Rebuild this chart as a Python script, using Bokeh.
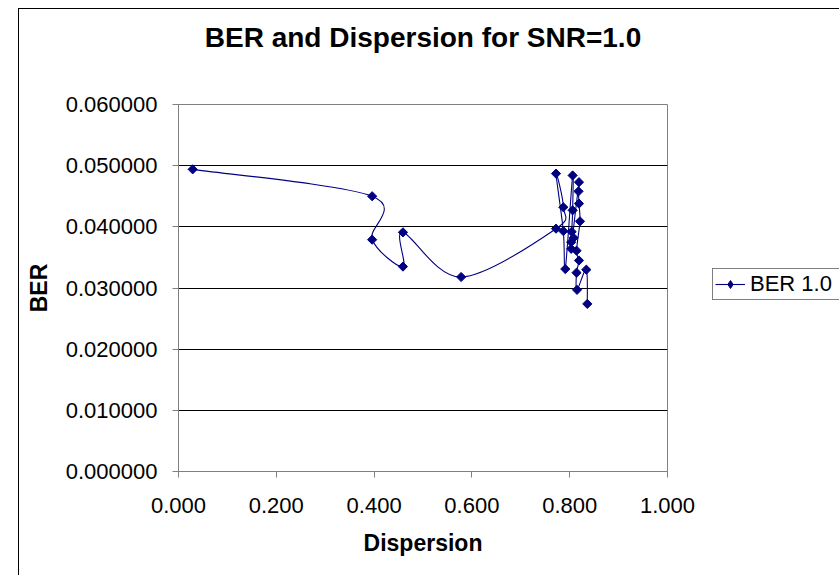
from bokeh.plotting import figure
from bokeh.layouts import row
from bokeh.models import (NumeralTickFormatter, FixedTicker, Range1d, Legend, LegendItem,
                          ColumnDataSource, Title)
from bokeh.embed import file_html
from bokeh.resources import INLINE
import math

# Data (series "BER 1.0"), in drawing order
dispersion = [0.029, 0.396, 0.396, 0.459, 0.459, 0.578, 0.772, 0.787, 0.772,
              0.787, 0.791, 0.806, 0.806, 0.804, 0.803, 0.808, 0.803, 0.819,
              0.818, 0.819, 0.821, 0.814, 0.819, 0.814, 0.815, 0.834, 0.836]
ber = [0.0494, 0.0450, 0.0379, 0.0335, 0.0391, 0.0318, 0.0397, 0.0432, 0.0487,
       0.0393, 0.0331, 0.0484, 0.0427, 0.0392, 0.0375, 0.0382, 0.0364, 0.0473,
       0.0458, 0.0438, 0.0409, 0.0361, 0.0345, 0.0325, 0.0297, 0.0330, 0.0274]

x_ticks = [0.0, 0.2, 0.4, 0.6, 0.8, 1.0]
y_ticks = [0.0, 0.01, 0.02, 0.03, 0.04, 0.05, 0.06]

title = "BER and Dispersion for SNR=1.0"
series_name = "BER 1.0"
FONT = "Liberation Sans"
NAVY = "#000080"

# Smoothed-line control points (Catmull-Rom style, as spreadsheet smoothing)
n = len(dispersion)
x0, y0, x1, y1, cx0, cy0, cx1, cy1 = [], [], [], [], [], [], [], []
for i in range(n - 1):
    pm = max(i - 1, 0)
    pp = min(i + 2, n - 1)
    x0.append(dispersion[i]); y0.append(ber[i])
    x1.append(dispersion[i + 1]); y1.append(ber[i + 1])
    cx0.append(dispersion[i] + (dispersion[i + 1] - dispersion[pm]) / 6)
    cy0.append(ber[i] + (ber[i + 1] - ber[pm]) / 6)
    cx1.append(dispersion[i + 1] - (dispersion[pp] - dispersion[i]) / 6)
    cy1.append(ber[i + 1] - (ber[pp] - ber[i]) / 6)

bez_src = ColumnDataSource(dict(x0=x0, y0=y0, x1=x1, y1=y1,
                                cx0=cx0, cy0=cy0, cx1=cx1, cy1=cy1))
pt_src = ColumnDataSource(dict(x=dispersion, y=ber))

W1 = 700
p = figure(width=W1, height=575, output_backend="svg", toolbar_location=None,
           x_range=Range1d(0, 1.0), y_range=Range1d(0, 0.06),
           min_border_left=178, min_border_right=W1 - 667,
           min_border_top=104, min_border_bottom=104)
# outer chart-area border (left and top edges visible in the window)
p.border_fill_alpha = 0
p.styles = {
    "background-color": "white",
    "background-image": "linear-gradient(black, black), linear-gradient(black, black)",
    "background-size": "1px 100%, 100% 1px",
    "background-position": "18px 8px, 18px 8px",
    "background-repeat": "no-repeat, no-repeat",
}

# chart title: a spacer title next to the plot area, then the real title above it
p.title_location = None
p.add_layout(Title(text=" ", text_font_size="1px", standoff=49), "above")
p.add_layout(Title(text=title, text_font=FONT, text_font_size="28px",
                   text_font_style="bold", text_color="black", align="center",
                   standoff=0), "above")

p.outline_line_color = "#808080"
p.outline_line_width = 1
p.background_fill_color = "white"

p.xgrid.visible = False
p.ygrid.grid_line_color = "black"
p.ygrid.grid_line_width = 1
p.ygrid.ticker = FixedTicker(ticks=y_ticks)

for ax in (p.xaxis[0], p.yaxis[0]):
    ax.axis_line_color = "#808080"
    ax.major_tick_line_color = "#808080"
    ax.major_tick_out = 6
    ax.major_tick_in = 0
    ax.minor_tick_line_color = None
    ax.major_label_text_font = FONT
    ax.major_label_text_font_size = "22px"
    ax.major_label_text_color = "black"
    ax.axis_label_text_font = FONT
    ax.axis_label_text_font_size = "23px"
    ax.axis_label_text_font_style = "bold"
    ax.axis_label_text_color = "black"

p.xaxis.ticker = FixedTicker(ticks=x_ticks)
p.yaxis.ticker = FixedTicker(ticks=y_ticks)
p.xaxis.formatter = NumeralTickFormatter(format="0.000")
p.yaxis.formatter = NumeralTickFormatter(format="0.000000")
p.xaxis.axis_label = "Dispersion"
p.yaxis.axis_label = "BER"
p.xaxis.major_label_standoff = 20
p.yaxis.major_label_standoff = 15
p.xaxis.axis_label_standoff = 14
p.yaxis.axis_label_standoff = 11

p.bezier(x0="x0", y0="y0", x1="x1", y1="y1", cx0="cx0", cy0="cy0",
         cx1="cx1", cy1="cy1", source=bez_src, line_color=NAVY, line_width=1.1)
p.scatter(x="x", y="y", source=pt_src, marker="square", angle=math.pi / 4, size=6.5,
          fill_color=NAVY, line_color=NAVY)

# Legend panel to the right of the plot area
W2 = 839 - W1
q = figure(width=W2, height=575, output_backend="svg", toolbar_location=None,
           x_range=Range1d(2, 3), y_range=Range1d(2, 3),
           x_axis_type=None, y_axis_type=None,
           min_border_left=0, min_border_right=0, min_border_top=0, min_border_bottom=0)
q.outline_line_color = None
q.background_fill_alpha = 0
q.border_fill_alpha = 0
q.styles = {
    "background-color": "white",
    "background-image": "linear-gradient(black, black)",
    "background-size": "100% 1px",
    "background-position": "0px 8px",
    "background-repeat": "no-repeat",
}
# swatch renderers for the legend (series data lies outside this panel's view)
sw_line = q.line(x="x", y="y", source=pt_src, line_color=NAVY, line_width=1.1)
sw_pt = q.scatter(x="x", y="y", source=pt_src, marker="diamond", size=9,
                  fill_color=NAVY, line_color=NAVY)

legend = Legend(items=[LegendItem(label=series_name, renderers=[sw_line, sw_pt])],
                location=(W2 - (839 - 712), 171), orientation="vertical",
                label_text_font=FONT, label_text_font_size="22px",
                label_text_color="black",
                border_line_color="black", border_line_width=1,
                background_fill_color="white", background_fill_alpha=1,
                glyph_width=30, glyph_height=20, padding=2, margin=0,
                label_standoff=5, label_width=100, spacing=0)
q.add_layout(legend, "center")

layout = row(p, q, spacing=0)
open("out.html", "w").write(file_html(layout, INLINE))
